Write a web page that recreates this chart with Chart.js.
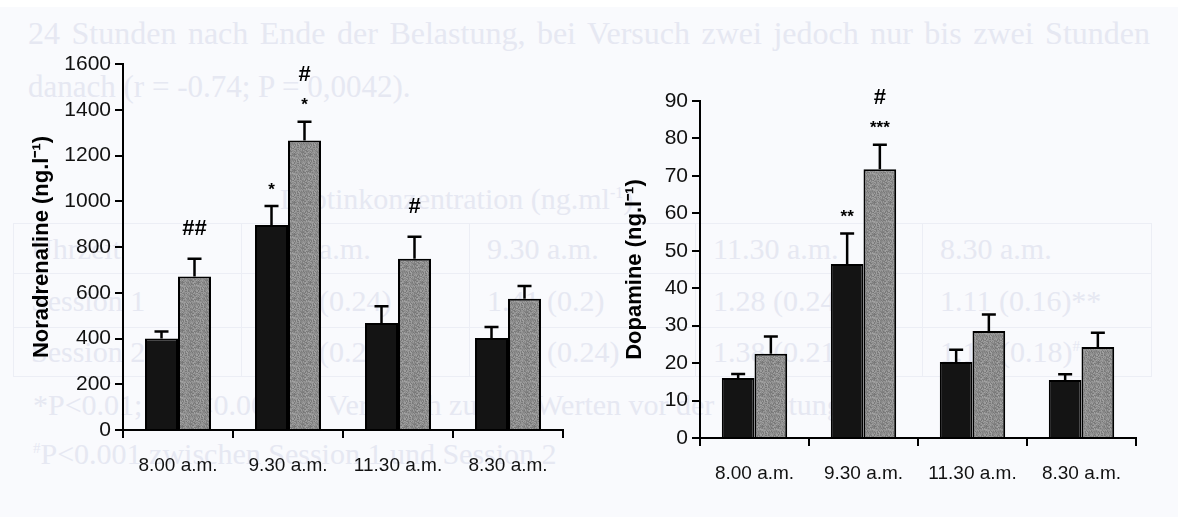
<!DOCTYPE html>
<html>
<head>
<meta charset="utf-8">
<script src="https://cdn.jsdelivr.net/npm/chart.js@4.4.1/dist/chart.umd.min.js"></script>
<style>
  html, body { margin: 0; padding: 0; }
  body { width: 1178px; height: 517px; position: relative; overflow: hidden; background: #f9fafd; }
  #topStrip { position: absolute; left: 0; top: 0; width: 1178px; height: 7px; background: #ffffff; }
  .ghost { position: absolute; font-family: 'Liberation Serif', 'DejaVu Serif', serif; color: #e6e8f2; font-size: 30px; line-height: 30px; white-space: nowrap; }
  #line1 { left: 28px; top: 18px; width: 1122px; font-size: 32px; text-align: justify; text-align-last: justify; }
  #line2 { left: 28px; top: 72px; font-size: 31px; }
  #tblTitle { left: 280px; top: 178px; }
  #foot1 { left: 33px; top: 390px; }
  #foot2 { left: 33px; top: 433px; }
  table.ghostTable { position: absolute; left: 13px; top: 223px; border-collapse: collapse; font-family: 'Liberation Serif', 'DejaVu Serif', serif; font-size: 30px; color: #e6e8f2; }
  table.ghostTable td { border: 1.5px solid #eceef5; padding: 0 0 0 17px; white-space: nowrap; box-sizing: border-box; }
  canvas { position: absolute; top: 0; }
  #noradChart { left: 0; }
  #dopaChart { left: 580px; }
</style>
</head>
<body>
<div id="topStrip"></div>
<div class="ghost" id="line1">24 Stunden nach Ende der Belastung, bei Versuch zwei jedoch nur bis zwei Stunden</div>
<div class="ghost" id="line2">danach (r = -0.74; P = 0,0042).</div>
<div class="ghost" id="tblTitle">Leptinkonzentration (ng.ml<sup style="font-size:16px">-1</sup>)</div>
<table class="ghostTable">
  <tr style="height:50px"><td style="width:228px">Uhrzeit</td><td style="width:228px">8.00 a.m.</td><td style="width:226px">9.30 a.m.</td><td style="width:227px">11.30 a.m.</td><td style="width:229px">8.30 a.m.</td></tr>
  <tr style="height:54px"><td>Session 1</td><td>1.33 (0.24)</td><td>1.41 (0.2)</td><td>1.28 (0.24)</td><td>1.11 (0.16)**</td></tr>
  <tr style="height:49px"><td>Session 2</td><td>1.36 (0.25)</td><td>1.40 (0.24)</td><td>1.38 (0.21)</td><td>1.15 (0.18)<sup style="font-size:15px">#</sup></td></tr>
</table>
<div class="ghost" id="foot1">*P&lt;0.01; **P&lt;0.001 im Vergleich zu den Werten vor der Belastung</div>
<div class="ghost" id="foot2"><sup style="font-size:15px">#</sup>P&lt;0.001 zwischen Session 1 und Session 2</div>

<canvas id="noradChart" width="640" height="517"></canvas>
<canvas id="dopaChart" width="598" height="517"></canvas>

<script>
// Sampling times
const timeLabels = ['8.00 a.m.', '9.30 a.m.', '11.30 a.m.', '8.30 a.m.'];

// Noradrenaline (ng.l-1): means and SEM, session 1 (black) and session 2 (grey)
const noradSession1 = [400, 896, 468, 402];
const noradSession2 = [671, 1266, 749, 574];
const noradSem1 = [31, 83, 73, 48];
const noradSem2 = [78, 82, 96, 56];
const noradMarks1 = [[], ['*'], [], []];
const noradMarks2 = [['##'], ['*', '#'], ['#'], []];
const noradTicks = { min: 0, max: 1600, step: 200 };

// Dopamine (ng.l-1)
const dopaSession1 = [16.0, 46.5, 20.3, 15.5];
const dopaSession2 = [22.5, 71.8, 28.6, 24.3];
const dopaSem1 = [1.1, 8.1, 3.3, 1.5];
const dopaSem2 = [4.6, 6.5, 4.4, 3.8];
const dopaMarks1 = [[], ['**'], [], []];
const dopaMarks2 = [[], ['***', '#'], [], []];
const dopaTicks = { min: 0, max: 90, step: 10 };

const SANS = "'Liberation Sans', Arial, sans-serif";

// Speckled grey fill for the session 2 bars
function speckle() {
  const c = document.createElement('canvas');
  c.width = 16; c.height = 16;
  const g = c.getContext('2d');
  const img = g.createImageData(16, 16);
  for (let y = 0; y < 16; y++) {
    for (let x = 0; x < 16; x++) {
      const h = ((x * 374761393) ^ (y * 668265263)) >>> 0;
      const v = 118 + (((h ^ (h >>> 13)) * 1274126177) >>> 0) % 46;
      const k = (y * 16 + x) * 4;
      img.data[k] = v; img.data[k + 1] = v; img.data[k + 2] = v; img.data[k + 3] = 255;
    }
  }
  g.putImageData(img, 0, 0);
  return g.createPattern(c, 'repeat');
}

// Upward error bars with caps plus significance symbols above them
const errorBarPlugin = {
  id: 'errorBars',
  afterDatasetsDraw(chart) {
    const ctx = chart.ctx;
    const yScale = chart.scales.y;
    chart.data.datasets.forEach((ds, di) => {
      const meta = chart.getDatasetMeta(di);
      meta.data.forEach((bar, i) => {
        const top = yScale.getPixelForValue(ds.data[i] + ds.sem[i]);
        ctx.save();
        ctx.strokeStyle = '#000';
        ctx.lineWidth = 2.5;
        ctx.beginPath();
        ctx.moveTo(bar.x, bar.y);
        ctx.lineTo(bar.x, top);
        ctx.moveTo(bar.x - 7, top);
        ctx.lineTo(bar.x + 7, top);
        ctx.stroke();
        ctx.fillStyle = '#000';
        ctx.textAlign = 'center';
        ctx.textBaseline = 'middle';
        let y = top;
        (ds.marks[i] || []).forEach((m, k) => {
          const isHash = m.indexOf('#') >= 0;
          y -= (k === 0) ? (isHash ? 30 : 21) : 26;
          if (isHash) {
            ctx.font = 'bold 22px ' + SANS;
            ctx.fillText(m, bar.x, y);
          } else {
            ctx.font = 'bold 17px ' + SANS;
            ctx.fillText(m, bar.x, y + 5);
          }
        });
        ctx.restore();
      });
    });
  }
};

function makeChart(id, s1, s2, e1, e2, m1, m2, ticks, title, pad, yWidth, xHeight, xPad) {
  return new Chart(document.getElementById(id), {
    type: 'bar',
    data: {
      labels: timeLabels,
      datasets: [
        { label: 'Session 1', data: s1, sem: e1, marks: m1, backgroundColor: '#141414', borderColor: '#000', borderWidth: 2, borderSkipped: 'bottom' },
        { label: 'Session 2', data: s2, sem: e2, marks: m2, backgroundColor: speckle(), borderColor: '#000', borderWidth: 2, borderSkipped: 'bottom' }
      ]
    },
    options: {
      responsive: false,
      animation: false,
      devicePixelRatio: 1,
      locale: 'en-US',
      layout: { padding: pad },
      plugins: { legend: { display: false }, tooltip: { enabled: false } },
      datasets: { bar: { categoryPercentage: 0.6, barPercentage: 1.0 } },
      scales: {
        x: {
          grid: { drawOnChartArea: false, color: '#000', lineWidth: 2, tickLength: 8, offset: true },
          border: { display: true, color: '#000', width: 2 },
          ticks: { color: '#111', padding: xPad, font: { family: SANS, size: 19 } },
          afterFit(scale) { scale.height = xHeight; }
        },
        y: {
          min: ticks.min, max: ticks.max,
          grid: { drawOnChartArea: false, color: '#000', lineWidth: 2, tickLength: 8 },
          border: { display: true, color: '#000', width: 2 },
          ticks: { stepSize: ticks.step, color: '#111', padding: 4, font: { family: SANS, size: 21 }, callback: v => String(v) },
          title: { display: true, text: title, color: '#000', font: { family: SANS, size: 22, weight: 'bold' }, padding: { top: 4, bottom: 0 } },
          afterFit(scale) { scale.width = yWidth; }
        }
      }
    },
    plugins: [errorBarPlugin]
  });
}

makeChart('noradChart', noradSession1, noradSession2, noradSem1, noradSem2, noradMarks1, noradMarks2, noradTicks,
  'Noradrenaline (ng.l\u207B\u00B9)', { left: 25, right: 77, top: 64, bottom: 0 }, 98, 87, 16);
makeChart('dopaChart', dopaSession1, dopaSession2, dopaSem1, dopaSem2, dopaMarks1, dopaMarks2, dopaTicks,
  'Dopamine (ng.l\u207B\u00B9)', { left: 38, right: 42, top: 101, bottom: 0 }, 82, 79, 16);
</script>
</body>
</html>
